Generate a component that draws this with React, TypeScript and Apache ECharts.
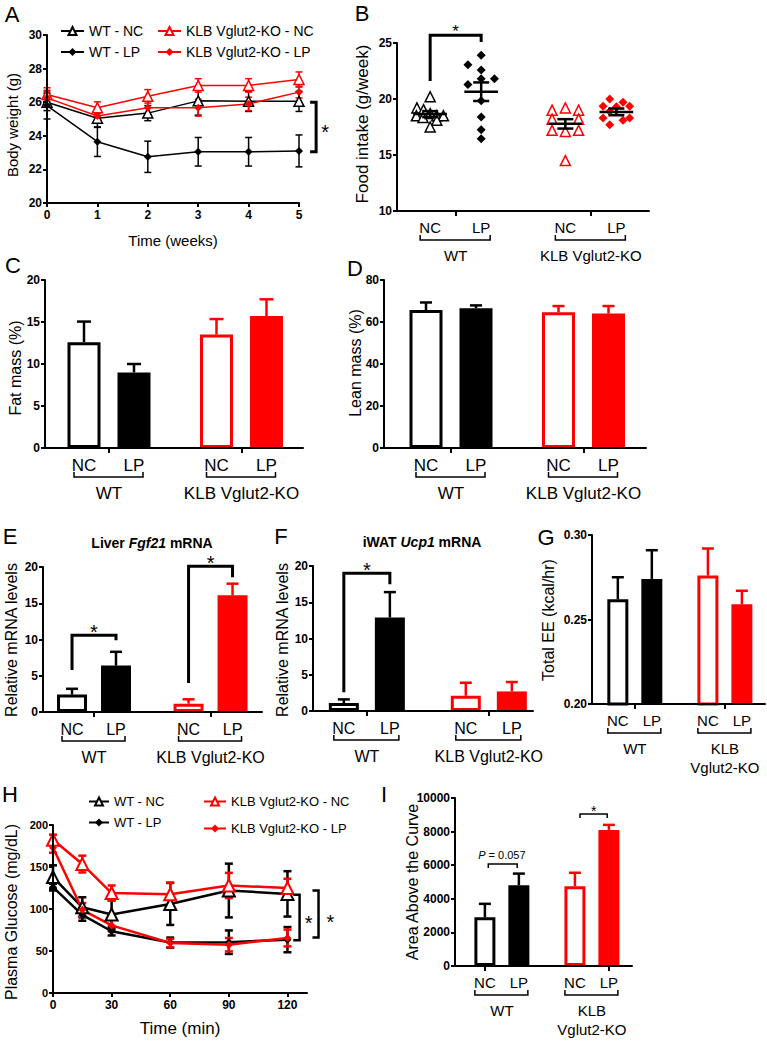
import React, { useEffect, useRef } from "react";
import * as echarts from "echarts";

const FONT = "Arial, 'Liberation Sans', Helvetica, sans-serif";
const RED = "#ff0000";
const BLACK = "#000000";
const WHITE = "#ffffff";

// ---------- shared categories ----------
const groupNames = ["WT", "KLB Vglut2-KO"];
const groupNamesTwoLine = ["WT", "KLB\nVglut2-KO"];
const dietNames = ["NC", "LP"];
const barPos = [1, 2, 3.65, 4.65]; // WT-NC, WT-LP, KO-NC, KO-LP
const groupPos = [1.5, 4.15];
const barColors = [BLACK, BLACK, RED, RED];
const barFilled = [false, true, false, true];
const seriesNames = ["WT - NC", "WT - LP", "KLB Vglut2-KO - NC", "KLB Vglut2-KO - LP"];
const seriesSymbols = ["triangle", "diamond", "triangle", "diamond"];

// ---------- A: body weight ----------
const weeks = [0, 1, 2, 3, 4, 5];
const bwWtNc = [26.0, 25.05, 25.35, 26.08, 26.05, 26.05];
const bwWtNcErr = [0.5, 0.55, 0.45, 0.85, 0.6, 0.6];
const bwWtLp = [25.8, 23.65, 22.75, 23.05, 23.05, 23.1];
const bwWtLpErr = [0.8, 0.88, 0.93, 0.85, 0.85, 0.95];
const bwKoNc = [26.46, 25.67, 26.35, 27.0, 27.0, 27.35];
const bwKoNcErr = [0.4, 0.35, 0.4, 0.4, 0.4, 0.45];
const bwKoLp = [26.26, 25.18, 25.67, 25.67, 25.9, 26.6];
const bwKoLpErr = [0.45, 0.4, 0.4, 0.5, 0.4, 0.35];

// ---------- B: food intake (individual animals) ----------
const fiWtNc = [20.2, 19.2, 19.05, 18.5, 18.35, 18.7, 18.5, 18.5, 18.1, 17.5];
const fiWtNcJit = [0, -0.26, -0.13, -0.27, -0.14, 0, 0.13, 0.26, 0.13, 0];
const fiWtLp = [23.9, 23.05, 22.6, 21.8, 21.3, 21.8, 19.85, 18.4, 17.25, 16.45];
const fiWtLpJit = [0, -0.26, 0, 0.26, -0.26, 0, 0, 0, 0, 0];
const fiKoNc = [19.0, 19.2, 19.0, 18.2, 18.2, 17.2, 17.1, 17.2, 14.5];
const fiKoNcJit = [-0.26, 0, 0.26, -0.26, 0.26, -0.26, 0, 0.26, 0];
const fiKoLp = [20.0, 19.7, 19.35, 19.35, 19.3, 18.9, 18.3, 18.3, 18.1, 17.7];
const fiKoLpJit = [-0.13, 0.13, -0.26, 0.26, 0, -0.13, -0.26, 0.26, 0.13, -0.13];
const fiMeans = [18.65, 20.65, 17.78, 18.85];
const fiSems = [0.27, 0.83, 0.42, 0.3];

// ---------- C-G, I: bar panels ----------
const fatMass = [12.6, 9.0, 13.5, 15.7];
const fatMassErr = [2.45, 1.0, 1.85, 2.0];
const leanMass = [65.7, 66.5, 64.6, 64.0];
const leanMassErr = [3.6, 1.4, 3.0, 3.6];
const fgf21 = [2.4, 6.4, 1.15, 16.1];
const fgf21Err = [0.8, 1.9, 0.6, 1.6];
const ucp1 = [1.1, 12.9, 2.1, 2.7];
const ucp1Err = [0.5, 3.5, 1.8, 1.3];
const totalEE = [0.262, 0.274, 0.276, 0.259];
const totalEEErr = [0.013, 0.017, 0.016, 0.008];
const aac = [2900, 4800, 4750, 8100];
const aacErr = [800, 700, 800, 300];

// ---------- H: glucose tolerance ----------
const minutes = [0, 15, 30, 60, 90, 120];
const minuteTicks = [0, 30, 60, 90, 120];
const glWtNc = [138, 102, 93.5, 106, 122, 118];
const glWtNcErr = [14, 12, 17, 25, 32, 27];
const glWtLp = [126, 93, 73.5, 60, 60.5, 63.5];
const glWtLpErr = [4, 7, 5, 6, 14, 15];
const glKoNc = [182.5, 153.5, 119, 117.5, 128, 125];
const glKoNcErr = [6, 10, 9, 14, 15, 11];
const glKoLp = [173, 99, 80.5, 59.5, 57.5, 65.5];
const glKoLpErr = [6, 8, 7, 5, 8, 10];

// ---------- significance annotations (data units) ----------
const sigA = [{ path: [[5.22, 26.0], [5.34, 26.0], [5.34, 23.05], [5.22, 23.05]], lw: 3, text: "*", at: [5.52, 24.52], fs: 20 }];
const sigB = [{ path: [[1, 21.6], [1, 25.7], [2, 25.7], [2, 25.1]], lw: 3, text: "*", at: [1.5, 26.43], fs: 17 }];
const sigE = [
  { path: [[1, 5.8], [1, 10.6], [2, 10.6], [2, 9.9]], lw: 3, text: "*", at: [1.5, 11.7], fs: 20 },
  { path: [[3.65, 4.0], [3.65, 20.1], [4.65, 20.1], [4.65, 18.6]], lw: 3, text: "*", at: [4.15, 21.2], fs: 20 },
];
const sigF = [{ path: [[1, 2.6], [1, 19.0], [2, 19.0], [2, 17.5]], lw: 3, text: "*", at: [1.5, 20.1], fs: 20 }];
const sigH = [
  { path: [[123, 117], [126.2, 117], [126.2, 62.7], [123, 62.7]], lw: 2.5, text: "*", at: [130.8, 88.8], fs: 20 },
  { path: [[132.8, 122], [135.9, 122], [135.9, 66], [132.8, 66]], lw: 2.5, text: "*", at: [142, 91], fs: 20 },
];
const sigI = [
  { path: [[1.1, 5833], [1.1, 6071], [1.95, 6071], [1.95, 5833]], lw: 1.5, text: "{i|P} = 0.057", at: [1.5, 6607], fs: 11 },
  { path: [[3.8, 8810], [3.8, 9048], [4.6, 9048], [4.6, 8810]], lw: 1.5, text: "*", at: [4.2, 9405], fs: 14 },
];

// ---------- helpers ----------
const yAx = (gi: number, min: number, max: number, interval: number, fmt?: any, fs = 12) => {
  const label: any = { color: BLACK, fontFamily: FONT, fontWeight: 700, fontSize: fs, margin: 5 };
  label.formatter = fmt || ((v: number) => String(v));
  return {
    type: "value", gridIndex: gi, min, max, interval, z: 10,
    axisLine: { show: true, onZero: false, lineStyle: { color: BLACK, width: 2 } },
    axisTick: { show: true, length: 4, lineStyle: { color: BLACK, width: 2 } },
    axisLabel: label,
    splitLine: { show: false },
  };
};

const xLineAx = (gi: number, min: number, max: number, ticks: number[]) => ({
  type: "value", gridIndex: gi, min, max, z: 10,
  axisLine: { show: true, onZero: false, lineStyle: { color: BLACK, width: 2 } },
  axisTick: { show: true, length: 4, lineStyle: { color: BLACK, width: 2 }, customValues: ticks },
  axisLabel: { color: BLACK, fontFamily: FONT, fontWeight: 700, fontSize: 12, margin: 6, customValues: ticks, formatter: (v: number) => String(v) },
  splitLine: { show: false },
});

const dietFor = (v: number) => {
  const k = barPos.findIndex((p) => Math.abs(p - v) < 1e-6);
  return k < 0 ? "" : dietNames[k % 2];
};

const xBarAx = (gi: number, min: number, max: number, fs: number, ticks = groupPos) => ({
  type: "value", gridIndex: gi, min, max, z: 10,
  axisLine: { show: true, onZero: false, lineStyle: { color: BLACK, width: 2 } },
  axisTick: { show: true, length: 5, lineStyle: { color: BLACK, width: 2 }, customValues: ticks },
  axisLabel: { show: true, customValues: barPos, color: BLACK, fontFamily: FONT, fontSize: fs, margin: 9, formatter: (v: number) => dietFor(v) },
  splitLine: { show: false },
});

const barSeries = (gi: number, vals: number[], width: number) => ({
  type: "bar", xAxisIndex: gi, yAxisIndex: gi, barWidth: width, z: 2, silent: true,
  data: vals.map((v, i) => ({
    value: [barPos[i], v],
    itemStyle: { color: barFilled[i] ? barColors[i] : WHITE, borderColor: barColors[i], borderWidth: barFilled[i] ? 0 : 3 },
  })),
});

const errSeries = (gi: number, xs: number[], vals: number[], errs: number[], colors: string[], capHalf: number, lw: number, twoSided: boolean, z = 3) => ({
  type: "custom", xAxisIndex: gi, yAxisIndex: gi, clip: false, silent: true, z,
  data: xs.map((x, i) => [x, vals[i], errs[i], i]),
  renderItem: (_p: any, api: any) => {
    const x = api.value(0), y = api.value(1), e = api.value(2), i = api.value(3);
    const top = api.coord([x, y + e]);
    const bot = api.coord([x, twoSided ? y - e : y]);
    const st = { stroke: colors[i], lineWidth: lw, fill: "none" };
    const children: any[] = [
      { type: "line", shape: { x1: top[0], y1: top[1], x2: bot[0], y2: bot[1] }, style: st },
      { type: "line", shape: { x1: top[0] - capHalf, y1: top[1], x2: top[0] + capHalf, y2: top[1] }, style: st },
    ];
    if (twoSided) children.push({ type: "line", shape: { x1: bot[0] - capHalf, y1: bot[1], x2: bot[0] + capHalf, y2: bot[1] }, style: st });
    return { type: "group", children };
  },
});

const groupSeries = (gi: number, yMin: number, fs: number, labels: string[]) => ({
  type: "custom", xAxisIndex: gi, yAxisIndex: gi, clip: false, silent: true, z: 5,
  data: groupPos.map((g, k) => [g, yMin, k]),
  renderItem: (_p: any, api: any) => {
    const k = api.value(2);
    const pl = api.coord([barPos[2 * k], yMin]);
    const pr = api.coord([barPos[2 * k + 1], yMin]);
    const yb = pl[1] + 29;
    const xl = pl[0] - 10, xr = pr[0] + 9;
    return {
      type: "group",
      children: [
        { type: "polyline", shape: { points: [[xl, yb - 5], [xl, yb], [xr, yb], [xr, yb - 5]] }, style: { stroke: BLACK, lineWidth: 1.5, fill: "none" } },
        { type: "text", x: (pl[0] + pr[0]) / 2, y: yb + 6, style: { text: labels[k], fill: BLACK, fontSize: fs, fontFamily: FONT, align: "center", verticalAlign: "top", lineHeight: fs + 4 } },
      ],
    };
  },
});

const annotSeries = (gi: number, items: any[]) => ({
  type: "custom", xAxisIndex: gi, yAxisIndex: gi, clip: false, silent: true, z: 6,
  data: items.map((it, k) => [it.at[0], it.at[1], k]),
  renderItem: (_p: any, api: any) => {
    const it = items[api.value(2)];
    const ch: any[] = [
      { type: "polyline", shape: { points: it.path.map((p: number[]) => api.coord(p)) }, style: { stroke: BLACK, lineWidth: it.lw, fill: "none" } },
    ];
    const p = api.coord(it.at);
    const dy = it.text === "*" ? it.fs * 0.25 : 0;
    ch.push({
      type: "text", x: p[0], y: p[1] + dy,
      style: { text: it.text, fill: BLACK, fontSize: it.fs, fontFamily: FONT, align: "center", verticalAlign: "middle", rich: { i: { fontStyle: "italic", fontSize: it.fs, fontFamily: FONT, fill: BLACK } } },
    });
    return { type: "group", children: ch };
  },
});

const lineSeries = (gi: number, k: number, xs: number[], vals: number[], triSize: number, diaSize: number, lw: number, bw: number) => ({
  type: "line", name: seriesNames[k], xAxisIndex: gi, yAxisIndex: gi, z: 4, silent: true,
  data: xs.map((x, i) => [x, vals[i]]),
  symbol: seriesSymbols[k], symbolSize: seriesSymbols[k] === "triangle" ? triSize : diaSize, showAllSymbol: true,
  lineStyle: { color: barColors[k], width: lw },
  itemStyle: { color: barFilled[k] ? barColors[k] : WHITE, borderColor: barColors[k], borderWidth: barFilled[k] ? 0 : bw },
  emphasis: { disabled: true },
});

const scatterSeries = (k: number, vals: number[], jit: number[]) => ({
  type: "scatter", xAxisIndex: 1, yAxisIndex: 1, z: 3, silent: true,
  data: vals.map((v, j) => [barPos[k] + jit[j], v]),
  symbol: seriesSymbols[k], symbolSize: seriesSymbols[k] === "triangle" ? 10 : 9,
  itemStyle: { color: barFilled[k] ? barColors[k] : WHITE, borderColor: barColors[k], borderWidth: barFilled[k] ? 0 : 1.5, opacity: 1 },
});

const meanSeries = {
  type: "custom", xAxisIndex: 1, yAxisIndex: 1, z: 4, silent: true, clip: false,
  data: barPos.map((p, i) => [p, fiMeans[i], fiSems[i]]),
  renderItem: (_p: any, api: any) => {
    const x = api.value(0), m = api.value(1), s = api.value(2);
    const L = api.coord([x - 0.33, m]), R = api.coord([x + 0.33, m]);
    const T = api.coord([x, m + s]), B = api.coord([x, m - s]);
    const st = { stroke: BLACK, lineWidth: 2.5, fill: "none" };
    const cap = 8;
    return {
      type: "group",
      children: [
        { type: "line", shape: { x1: L[0], y1: L[1], x2: R[0], y2: R[1] }, style: st },
        { type: "line", shape: { x1: T[0], y1: T[1], x2: B[0], y2: B[1] }, style: st },
        { type: "line", shape: { x1: T[0] - cap, y1: T[1], x2: T[0] + cap, y2: T[1] }, style: st },
        { type: "line", shape: { x1: B[0] - cap, y1: B[1], x2: B[0] + cap, y2: B[1] }, style: st },
      ],
    };
  },
};

const legendItem = (name: string, left: number, top: number, fs: number, iw: number) => ({
  data: [name], left, top, orient: "horizontal", padding: 0, itemWidth: iw, itemHeight: 10, itemGap: 0,
  selectedMode: false, textStyle: { color: BLACK, fontSize: fs, fontFamily: FONT },
});

const txt = (text: string, x: number, y: number, fs: number, opts: any = {}) => ({
  type: "text", x, y, rotation: opts.rot || 0, silent: true,
  style: {
    text, fill: BLACK, fontSize: fs, fontFamily: FONT, fontWeight: opts.bold ? "bold" : "normal",
    align: "center", verticalAlign: "middle",
    rich: opts.rich,
  },
});

const ROT = Math.PI / 2;

function buildOption(): any {
  const grids = [
    { left: 47, top: 35, width: 252, height: 168 }, // A
    { left: 397, top: 43, width: 252, height: 168 }, // B
    { left: 45, top: 280, width: 258, height: 168 }, // C
    { left: 384, top: 280, width: 262, height: 168 }, // D
    { left: 43, top: 567, width: 219, height: 145 }, // E
    { left: 313, top: 566, width: 220, height: 145 }, // F
    { left: 592, top: 535, width: 173, height: 169 }, // G
    { left: 53, top: 825, width: 254, height: 168 }, // H
    { left: 455, top: 798, width: 177, height: 168 }, // I
  ];

  const xAxis = [
    xLineAx(0, 0, 5, weeks),
    xBarAx(1, 0.35, 5.29, 15),
    xBarAx(2, 0.22, 5.38, 17),
    xBarAx(3, 0.16, 5.4, 17),
    xBarAx(4, 0.34, 5.32, 16),
    xBarAx(5, 0.33, 5.11, 16),
    xBarAx(6, 0.24, 5.33, 15),
    xLineAx(7, 0, 130, minuteTicks),
    xBarAx(8, 0.12, 5.33, 15, [1, 4.65]),
  ];

  const yAxis = [
    yAx(0, 20, 30, 2),
    yAx(1, 10, 25, 5),
    yAx(2, 0, 20, 5),
    yAx(3, 0, 80, 20),
    yAx(4, 0, 20, 5),
    yAx(5, 0, 20, 5),
    yAx(6, 0.2, 0.3, 0.05, (v: number) => v.toFixed(2)),
    yAx(7, 0, 200, 50, undefined, 11),
    yAx(8, 0, 10000, 2000),
  ];

  const aVals = [bwWtNc, bwWtLp, bwKoNc, bwKoLp];
  const aErrs = [bwWtNcErr, bwWtLpErr, bwKoNcErr, bwKoLpErr];
  const hVals = [glWtNc, glWtLp, glKoNc, glKoLp];
  const hErrs = [glWtNcErr, glWtLpErr, glKoNcErr, glKoLpErr];

  const series: any[] = [];
  // A
  aVals.forEach((v, k) => series.push(errSeries(0, weeks, v, aErrs[k], weeks.map(() => barColors[k]), 3.5, 1.5, true, 3)));
  aVals.forEach((v, k) => series.push(lineSeries(0, k, weeks, v, 10, 8, 1.5, 1.5)));
  series.push(annotSeries(0, sigA));
  // B
  series.push(scatterSeries(0, fiWtNc, fiWtNcJit));
  series.push(scatterSeries(1, fiWtLp, fiWtLpJit));
  series.push(scatterSeries(2, fiKoNc, fiKoNcJit));
  series.push(scatterSeries(3, fiKoLp, fiKoLpJit));
  series.push(meanSeries);
  series.push(groupSeries(1, 10, 15, groupNames));
  series.push(annotSeries(1, sigB));
  // C
  series.push(barSeries(2, fatMass, 33));
  series.push(errSeries(2, barPos, fatMass, fatMassErr, barColors, 7, 2.5, false));
  series.push(groupSeries(2, 0, 17, groupNames));
  // D
  series.push(barSeries(3, leanMass, 33));
  series.push(errSeries(3, barPos, leanMass, leanMassErr, barColors, 6, 2.5, false));
  series.push(groupSeries(3, 0, 17, groupNames));
  // E
  series.push(barSeries(4, fgf21, 30));
  series.push(errSeries(4, barPos, fgf21, fgf21Err, barColors, 6, 2.5, false));
  series.push(groupSeries(4, 0, 16, groupNames));
  series.push(annotSeries(4, sigE));
  // F
  series.push(barSeries(5, ucp1, 30));
  series.push(errSeries(5, barPos, ucp1, ucp1Err, barColors, 6, 2.5, false));
  series.push(groupSeries(5, 0, 16, groupNames));
  series.push(annotSeries(5, sigF));
  // G
  series.push(barSeries(6, totalEE, 21));
  series.push(errSeries(6, barPos, totalEE, totalEEErr, barColors, 6, 2.5, false));
  series.push(groupSeries(6, 0.2, 15, groupNamesTwoLine));
  // H
  hVals.forEach((v, k) => series.push(errSeries(7, minutes, v, hErrs[k], minutes.map(() => barColors[k]), 4, 2.5, true, 3)));
  hVals.forEach((v, k) => series.push(lineSeries(7, k, minutes, v, 12, 8, 2.5, 2)));
  series.push(annotSeries(7, sigH));
  // I
  series.push(barSeries(8, aac, 21));
  series.push(errSeries(8, barPos, aac, aacErr, barColors, 6, 2.5, false));
  series.push(groupSeries(8, 0, 15, groupNamesTwoLine));
  series.push(annotSeries(8, sigI));

  const legend = [
    legendItem(seriesNames[0], 60, 24, 14, 23),
    legendItem(seriesNames[1], 60, 45, 14, 23),
    legendItem(seriesNames[2], 157, 24, 14, 23),
    legendItem(seriesNames[3], 157, 45, 14, 23),
    legendItem(seriesNames[0], 88, 795, 13, 20),
    legendItem(seriesNames[1], 88, 816, 13, 20),
    legendItem(seriesNames[2], 203, 795, 13, 22),
    legendItem(seriesNames[3], 203, 822, 13, 22),
  ];

  const italicBold = { i: { fontStyle: "italic", fontWeight: "bold", fontSize: 14, fontFamily: FONT, fill: BLACK } };
  const graphic = {
    elements: [
      txt("A", 12, 14, 22), txt("B", 362, 13, 22), txt("C", 13, 265, 22), txt("D", 355, 268, 22),
      txt("E", 10, 536, 22), txt("F", 281, 536, 22), txt("G", 546, 537, 22), txt("H", 10, 794, 22), txt("I", 384, 794, 22),
      txt("Body weight (g)", 12, 125, 15, { rot: ROT }),
      txt("Time (weeks)", 173, 240, 15),
      txt("Food intake (g/week)", 362, 124, 17, { rot: ROT }),
      txt("Fat mass (%)", 15, 368, 16, { rot: ROT }),
      txt("Lean mass (%)", 355, 363, 16, { rot: ROT }),
      txt("Liver {i|Fgf21} mRNA", 152, 543, 14, { bold: true, rich: italicBold }),
      txt("iWAT {i|Ucp1} mRNA", 422, 542, 14, { bold: true, rich: italicBold }),
      txt("Relative mRNA levels", 11, 640, 16, { rot: ROT }),
      txt("Relative mRNA levels", 282, 640, 16, { rot: ROT }),
      txt("Total EE (kcal/hr)", 548, 620, 16, { rot: ROT }),
      txt("Plasma Glucose (mg/dL)", 11, 912, 16, { rot: ROT }),
      txt("Time (min)", 180, 1028, 17),
      txt("Area Above the Curve", 412, 882, 16, { rot: ROT }),
    ],
  };

  return {
    animation: false,
    backgroundColor: WHITE,
    textStyle: { fontFamily: FONT },
    grid: grids,
    xAxis,
    yAxis,
    legend,
    series,
    graphic,
  };
}

export default function App() {
  const ref = useRef<HTMLDivElement>(null);
  useEffect(() => {
    document.body.style.margin = "0";
    const chart = echarts.init(ref.current as HTMLDivElement, null, { renderer: "svg" });
    chart.setOption(buildOption());
    return () => chart.dispose();
  }, []);
  return <div ref={ref} style={{ width: 767, height: 1043, background: "#fff" }} />;
}
